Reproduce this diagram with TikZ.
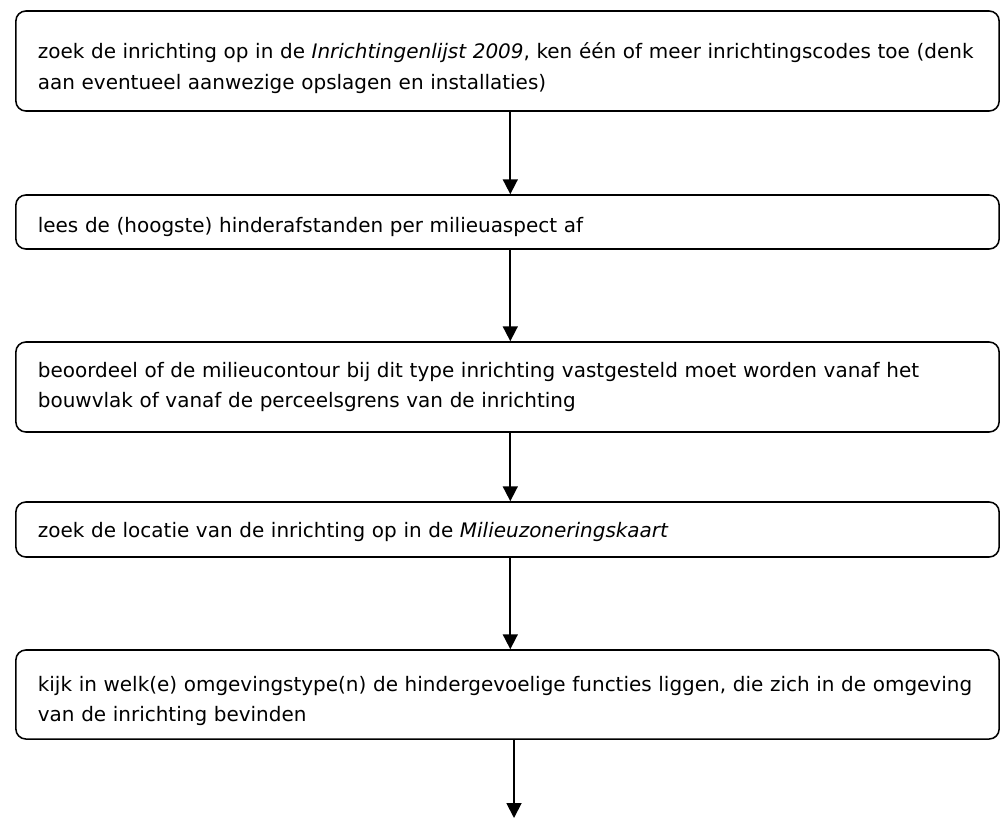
\documentclass[tikz,border=0pt]{standalone}
\usepackage{fontspec}
\setmainfont{DejaVu Sans}
\usepackage{tikz}
\usetikzlibrary{arrows.meta, positioning}

\begin{document}
\begin{tikzpicture}[
  x=0.025cm, y=-0.025cm,
  stepbox/.style={rectangle, rounded corners=0.25cm, draw=black, line width=1.1pt,
    text width=23.475cm, inner xsep=0.55cm, inner ysep=0pt, align=left,
    font=\fontsize{14.2pt}{22pt}\selectfont},
  lower/.style={execute at begin node={\noindent\rule{0pt}{#1}}},
  arr/.style={-{Triangle[width=0.37cm, length=0.37cm]}, line width=1.3pt}
]
  \useasboundingbox (0,0) rectangle (1000,818);
  % steps
  \node[stepbox, lower=21pt, minimum height=2.5cm] (S1) at (507.5,61)
    {zoek de inrichting op in de \textit{Inrichtingenlijst 2009}, ken één of meer inrichtingscodes toe (denk\\aan eventueel aanwezige opslagen en installaties)};
  \node[stepbox, lower=18pt, minimum height=1.35cm] (S2) at (507.5,222)
    {lees de (hoogste) hinderafstanden per milieuaspect af};
  \node[stepbox, minimum height=2.25cm] (S3) at (507.5,387)
    {beoordeel of de milieucontour bij dit type inrichting vastgesteld moet worden vanaf het\\bouwvlak of vanaf de perceelsgrens van de inrichting};
  \node[stepbox, lower=15pt, minimum height=1.375cm] (S4) at (507.5,529.5)
    {zoek de locatie van de inrichting op in de \textit{Milieuzoneringskaart}};
  \node[stepbox, lower=20pt, minimum height=2.225cm] (S5) at (507.5,694.5)
    {kijk in welk(e) omgevingstype(n) de hindergevoelige functies liggen, die zich in de omgeving\\van de inrichting bevinden};
  \coordinate (E) at (514,818);
  % arrows
  \foreach \a/\b in {S1/S2, S2/S3, S3/S4, S4/S5}{
    \draw[arr] ([xshift=0.07cm]\a.south) -- ([xshift=0.07cm]\b.north);
  }
  \draw[arr] (S5.south -| E) -- (E);
\end{tikzpicture}
\end{document}
